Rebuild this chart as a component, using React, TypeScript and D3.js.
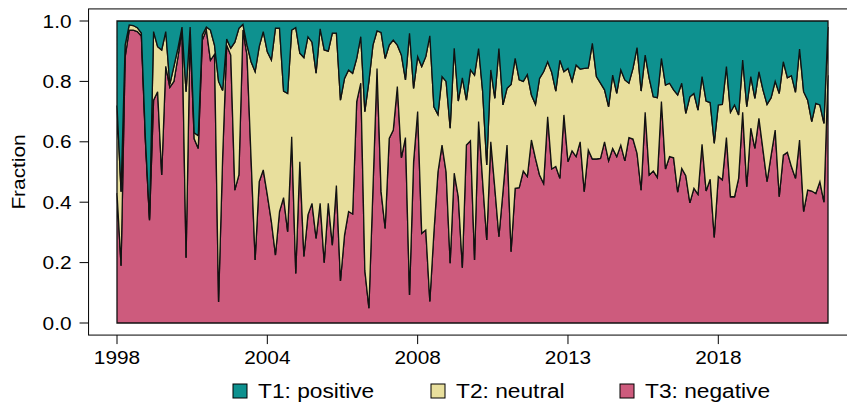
import React from 'react';
import * as d3 from 'd3';

const negative = [
  0.43, 0.19, 0.88, 0.97, 0.97, 0.965, 0.95, 0.60, 0.34, 0.738,
  0.766, 0.49, 0.85, 0.78, 0.80, 0.88, 0.97, 0.216, 0.96, 0.61,
  0.578, 0.937, 0.97, 0.87, 0.89, 0.07, 0.55, 0.92, 0.887, 0.44,
  0.49, 0.97, 0.887, 0.545, 0.209, 0.468, 0.507, 0.424, 0.336, 0.225,
  0.369, 0.415, 0.302, 0.617, 0.164, 0.534, 0.22, 0.358, 0.396, 0.28,
  0.396, 0.20, 0.396, 0.258, 0.455, 0.139, 0.291, 0.369, 0.361, 0.733,
  0.794, 0.175, 0.049, 0.446, 0.843, 0.435, 0.313, 0.611, 0.639, 0.783,
  0.547, 0.614, 0.093, 0.534, 0.70, 0.297, 0.308, 0.071, 0.30, 0.50,
  0.589, 0.50, 0.198, 0.496, 0.418, 0.183, 0.589, 0.603, 0.209, 0.667,
  0.468, 0.275, 0.60, 0.446, 0.286, 0.435, 0.589, 0.236, 0.446, 0.448,
  0.503, 0.485, 0.606, 0.545, 0.49, 0.462, 0.683, 0.51, 0.518, 0.479,
  0.689, 0.534, 0.57, 0.551, 0.60, 0.435, 0.573, 0.543, 0.543, 0.545,
  0.60, 0.537, 0.578, 0.551, 0.589, 0.537, 0.614, 0.609, 0.562, 0.44,
  0.698, 0.49, 0.503, 0.482, 0.733, 0.51, 0.551, 0.547, 0.433, 0.512,
  0.488, 0.398, 0.446, 0.426, 0.592, 0.437, 0.476, 0.283, 0.485, 0.474,
  0.614, 0.418, 0.418, 0.479, 0.698, 0.451, 0.645, 0.578, 0.678, 0.573,
  0.468, 0.556, 0.639, 0.418, 0.556, 0.565, 0.518, 0.479, 0.606, 0.369,
  0.44, 0.437, 0.429, 0.468, 0.40, 0.82
];
const neutral = [
  0.29, 0.245, 0.04, 0.017, 0.015, 0.013, 0.01, 0.01, 0.005, 0.227,
  0.149, 0.414, 0.115, 0.01, 0.05, 0.03, 0.01, 0.55, 0.02, 0.02,
  0.042, 0.017, 0.01, 0.10, 0.03, 0.73, 0.22, 0.02, 0.023, 0.49,
  0.486, 0.019, 0.033, 0.32, 0.623, 0.447, 0.458, 0.474, 0.535, 0.751,
  0.607, 0.353, 0.458, 0.353, 0.814, 0.359, 0.659, 0.59, 0.534, 0.547,
  0.578, 0.704, 0.504, 0.702, 0.505, 0.599, 0.519, 0.469, 0.466, 0.143,
  0.154, 0.525, 0.751, 0.474, 0.124, 0.527, 0.563, 0.309, 0.298, 0.137,
  0.34, 0.191, 0.866, 0.243, 0.182, 0.552, 0.574, 0.88, 0.416, 0.19,
  0.227, 0.30, 0.447, 0.414, 0.317, 0.629, 0.149, 0.235, 0.612, 0.242,
  0.298, 0.248, 0.238, 0.298, 0.623, 0.287, 0.188, 0.554, 0.43, 0.357,
  0.297, 0.338, 0.149, 0.179, 0.32, 0.37, 0.182, 0.32, 0.25, 0.391,
  0.143, 0.309, 0.23, 0.303, 0.241, 0.408, 0.272, 0.383, 0.273, 0.249,
  0.172, 0.179, 0.243, 0.209, 0.249, 0.268, 0.18, 0.234, 0.35, 0.328,
  0.189, 0.32, 0.246, 0.264, 0.143, 0.278, 0.243, 0.225, 0.322, 0.282,
  0.206, 0.351, 0.314, 0.279, 0.224, 0.298, 0.254, 0.312, 0.237, 0.25,
  0.235, 0.28, 0.304, 0.21, 0.173, 0.265, 0.171, 0.166, 0.154, 0.199,
  0.256, 0.19, 0.161, 0.342, 0.309, 0.247, 0.301, 0.285, 0.301, 0.397,
  0.298, 0.23, 0.298, 0.254, 0.261, 0.16
];
const positive = [
  0.28, 0.565, 0.08, 0.013, 0.015, 0.022, 0.04, 0.39, 0.655, 0.035,
  0.085, 0.096, 0.035, 0.21, 0.15, 0.09, 0.02, 0.234, 0.02, 0.37,
  0.38, 0.046, 0.02, 0.03, 0.08, 0.20, 0.23, 0.06, 0.09, 0.07,
  0.024, 0.011, 0.08, 0.135, 0.168, 0.085, 0.035, 0.102, 0.129, 0.024,
  0.024, 0.232, 0.24, 0.03, 0.022, 0.107, 0.121, 0.052, 0.07, 0.173,
  0.026, 0.096, 0.10, 0.04, 0.04, 0.262, 0.19, 0.162, 0.173, 0.124,
  0.052, 0.30, 0.20, 0.08, 0.033, 0.038, 0.124, 0.08, 0.063, 0.08,
  0.113, 0.195, 0.041, 0.223, 0.118, 0.151, 0.118, 0.049, 0.284, 0.31,
  0.184, 0.20, 0.355, 0.09, 0.265, 0.188, 0.262, 0.162, 0.179, 0.091,
  0.234, 0.477, 0.162, 0.256, 0.091, 0.278, 0.223, 0.21, 0.124, 0.195,
  0.20, 0.177, 0.245, 0.276, 0.19, 0.168, 0.135, 0.17, 0.232, 0.13,
  0.168, 0.157, 0.20, 0.146, 0.159, 0.157, 0.155, 0.074, 0.184, 0.206,
  0.228, 0.284, 0.179, 0.24, 0.162, 0.195, 0.206, 0.157, 0.088, 0.232,
  0.113, 0.19, 0.251, 0.254, 0.124, 0.212, 0.206, 0.228, 0.245, 0.206,
  0.306, 0.251, 0.24, 0.295, 0.184, 0.265, 0.27, 0.405, 0.278, 0.276,
  0.151, 0.302, 0.278, 0.311, 0.129, 0.284, 0.184, 0.256, 0.168, 0.228,
  0.276, 0.254, 0.20, 0.24, 0.135, 0.188, 0.181, 0.236, 0.093, 0.234,
  0.262, 0.333, 0.273, 0.278, 0.339, 0.02
];

const tickIndex = [0, 37, 74, 111, 148];
const tickLabels = ['1998', '2004', '2008', '2013', '2018'];
const yTicks = [0, 0.2, 0.4, 0.6, 0.8, 1.0];
const seriesKeys = ['neg', 'neu', 'pos'];
const legendLabels = ['T1: positive', 'T2: neutral', 'T3: negative'];
const legendColors = ['#0E918F', '#E8DF9D', '#CD5B7D'];
const areaColors: Record<string, string> = { neg: '#CD5B7D', neu: '#E8DF9D', pos: '#0E918F' };

const FONT = '"Liberation Sans", Arial, Helvetica, sans-serif';
const FS = 18.6;
const SX = 1.12;

function T({ x, y, anchor = 'start', rotate = 0, fs = FS, sx = SX, children }: any) {
  return (
    <g transform={`translate(${x},${y}) rotate(${rotate}) scale(${sx},1)`}>
      <text x={0} y={0} dy="0.36em" textAnchor={anchor} fontSize={fs} fill="#000">
        {children}
      </text>
    </g>
  );
}

export default function App() {
  const W = 847;
  const H = 405;
  const n = negative.length;
  const x = d3.scaleLinear().domain([0, n - 1]).range([117, 828]);
  const y = d3.scaleLinear().domain([0, 1]).range([323, 21]);
  const pad = (n - 1) * 0.04;
  const fx0 = x(-pad);
  const fx1 = x(n - 1 + pad);
  const fy0 = y(1.04);
  const fy1 = y(-0.04);

  const rows = negative.map((v, i) => ({ i, neg: v, neu: neutral[i], pos: positive[i] }));
  const stacked = d3.stack<any>().keys(seriesKeys)(rows);
  const area = d3
    .area<any>()
    .x((d: any) => x(d.data.i))
    .y0((d: any) => y(d[0]))
    .y1((d: any) => y(d[1]));

  const legendX = [233, 431, 620];

  return (
    <svg
      width={W}
      height={H}
      style={{ position: 'absolute', left: 0, top: 0, background: '#fff' }}
      fontFamily={FONT}
    >
      <rect x={0} y={0} width={W} height={H} fill="#fff" />
      {stacked.map((s: any) => (
        <path
          key={s.key}
          d={area(s) || ''}
          fill={areaColors[s.key]}
          stroke="#111"
          strokeWidth={1.3}
          strokeLinejoin="miter"
        />
      ))}
      <rect x={fx0} y={fy0} width={fx1 - fx0} height={fy1 - fy0} fill="none" stroke="#000" strokeWidth={1} />
      {yTicks.map((t) => (
        <g key={t}>
          <line x1={fx0 - 9} x2={fx0} y1={y(t)} y2={y(t)} stroke="#000" strokeWidth={1} />
          <T x={fx0 - 17} y={y(t)} anchor="end">{t.toFixed(1)}</T>
        </g>
      ))}
      <T x={18} y={(y(0) + y(1)) / 2} anchor="middle" rotate={-90}>Fraction</T>
      {tickIndex.map((t, k) => (
        <g key={t}>
          <line x1={x(t)} x2={x(t)} y1={fy1} y2={fy1 + 9} stroke="#000" strokeWidth={1} />
          <T x={x(t)} y={fy1 + 22} anchor="middle">{tickLabels[k]}</T>
        </g>
      ))}
      {legendLabels.map((lab, k) => (
        <g key={lab}>
          <rect x={legendX[k]} y={384} width={14} height={14} fill={legendColors[k]} stroke="#000" strokeWidth={1} />
          <T x={legendX[k] + 25} y={391} fs={19.6} sx={1.16}>{lab}</T>
        </g>
      ))}
    </svg>
  );
}
